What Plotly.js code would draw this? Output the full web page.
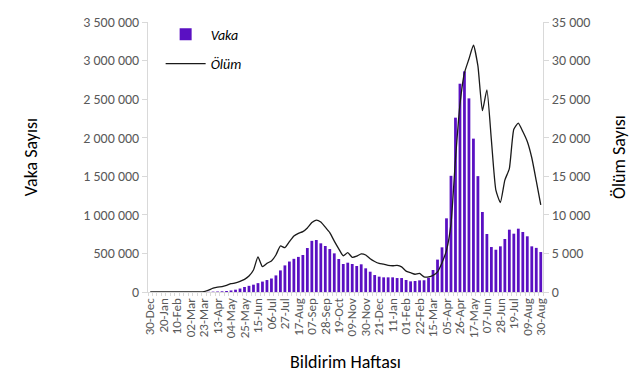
<!DOCTYPE html>
<html>
<head>
<meta charset="utf-8">
<script src="https://cdn.plot.ly/plotly-3.0.1.min.js"></script>
<style>html,body{margin:0;padding:0;background:#fff;}#chart{width:642px;height:382px;}</style>
</head>
<body>
<div id="chart"></div>
<script>
// Weekly categories (Monday of the reporting week)
const weeks = [
  "30-Dec","06-Jan","13-Jan","20-Jan","27-Jan","03-Feb","10-Feb","17-Feb","24-Feb","02-Mar",
  "09-Mar","16-Mar","23-Mar","30-Mar","06-Apr","13-Apr","20-Apr","27-Apr","04-May","11-May",
  "18-May","25-May","01-Jun","08-Jun","15-Jun","22-Jun","29-Jun","06-Jul","13-Jul","20-Jul",
  "27-Jul","03-Aug","10-Aug","17-Aug","24-Aug","31-Aug","07-Sep","14-Sep","21-Sep","28-Sep",
  "05-Oct","12-Oct","19-Oct","26-Oct","02-Nov","09-Nov","16-Nov","23-Nov","30-Nov","07-Dec",
  "14-Dec","21-Dec","28-Dec","04-Jan","11-Jan","18-Jan","25-Jan","01-Feb","08-Feb","15-Feb",
  "22-Feb","01-Mar","08-Mar","15-Mar","22-Mar","29-Mar","05-Apr","12-Apr","19-Apr","26-Apr",
  "03-May","10-May","17-May","24-May","31-May","07-Jun","14-Jun","21-Jun","28-Jun","05-Jul",
  "12-Jul","19-Jul","26-Jul","02-Aug","09-Aug","16-Aug","23-Aug","30-Aug"
];

// Vaka (cases) per week
const vaka = [
  0,0,0,0,0,0,0,0,0,20,
  80,200,600,2500,4500,6500,9000,13000,20000,30000,
  45000,65000,80000,95000,115000,135000,155000,175000,215000,280000,
  345000,395000,430000,455000,480000,570000,663000,674000,631000,596000,
  557000,501000,428000,363000,380000,363000,337000,359000,307000,263000,
  220000,199000,190000,190000,190000,181000,181000,156000,138000,143000,
  151000,152000,185000,285000,420000,579000,955000,1506000,2260000,2700000,
  2860000,2510000,1988000,1502000,1037000,752000,583000,548000,592000,687000,
  808000,756000,821000,778000,722000,592000,572000,518000
];

// Ölüm (deaths) per week
const olum = [
  0,0,0,0,0,0,0,0,0,0,
  0,0,60,250,500,640,690,860,1080,1170,
  1380,1640,2070,2850,4550,3280,3710,4020,4800,5960,
  5750,6520,7260,7600,7820,8300,9000,9330,9070,8400,
  7700,6600,5600,4700,5100,4500,4650,4950,4800,4300,
  3950,3700,3600,3450,3400,3450,3250,2700,2500,2300,
  2400,1950,1950,2150,2600,3800,5400,8800,17200,24300,
  28400,30200,32000,29300,23500,26200,19700,13200,11600,14500,
  16000,21100,21900,20800,19500,17400,14400,11300
];

// Tick labels shown every third week
const tickLabels = weeks.map((w, i) => (i % 3 === 0 ? w : ""));

const FONT = "Carlito, Calibri, Lato, sans-serif";
const GREY = "#595959";
const AXIS = "#d9d9d9";

const traces = [
  {
    type: "bar", name: "Vaka", x: weeks, y: vaka,
    marker: {color: "#5a10c2"}, legendgroup: "a", yaxis: "y"
  },
  {
    type: "scatter", mode: "lines", name: "Ölüm", x: weeks, y: olum,
    line: {color: "#1a1a1a", width: 1.3, shape: "spline", smoothing: 0.5},
    legendgroup: "b", yaxis: "y2"
  }
];

const layout = {
  width: 642, height: 382,
  margin: {l: 148, r: 99, t: 22, b: 90},
  paper_bgcolor: "#fff", plot_bgcolor: "#fff",
  separators: ", ",
  font: {family: FONT, size: 14, color: GREY},
  bargap: 0.38,
  showlegend: true,
  legend: {
    x: 0.032, y: 1.012, xanchor: "left", yanchor: "top",
    bgcolor: "rgba(0,0,0,0)", font: {family: FONT, size: 14, color: "#000", style: "italic"},
    traceorder: "grouped", tracegroupgap: 8, itemwidth: 40
  },
  xaxis: {
    type: "category",
    tickmode: "array", tickvals: weeks, ticktext: tickLabels,
    tickangle: -90, tickfont: {family: FONT, size: 13, color: GREY},
    ticks: "outside", ticklen: 3, tickcolor: AXIS, tickson: "boundaries",
    showline: true, linecolor: AXIS, showgrid: false, zeroline: false,
    title: {text: "Bildirim Haftası", font: {family: FONT, size: 18, color: "#000"}, standoff: 18},
    automargin: false
  },
  yaxis: {
    range: [0, 3500000], dtick: 500000, tickformat: ",d",
    ticks: "outside", ticklen: 5, tickcolor: AXIS,
    showline: true, linecolor: AXIS, showgrid: false, zeroline: false,
    tickfont: {family: FONT, size: 14, color: GREY},
    title: {text: "Vaka Sayısı", font: {family: FONT, size: 18, color: "#000"}, standoff: 40},
    automargin: false
  },
  yaxis2: {
    overlaying: "y", side: "right",
    range: [0, 35000], dtick: 5000, tickformat: ",d",
    ticks: "outside", ticklen: 5, tickcolor: AXIS,
    showline: true, linecolor: AXIS, showgrid: false, zeroline: false,
    tickfont: {family: FONT, size: 14, color: GREY},
    title: {text: "Ölüm Sayısı", font: {family: FONT, size: 18, color: "#000"}, standoff: 22},
    automargin: false
  }
};

Plotly.newPlot("chart", traces, layout, {displayModeBar: false, staticPlot: true});
</script>
</body>
</html>
